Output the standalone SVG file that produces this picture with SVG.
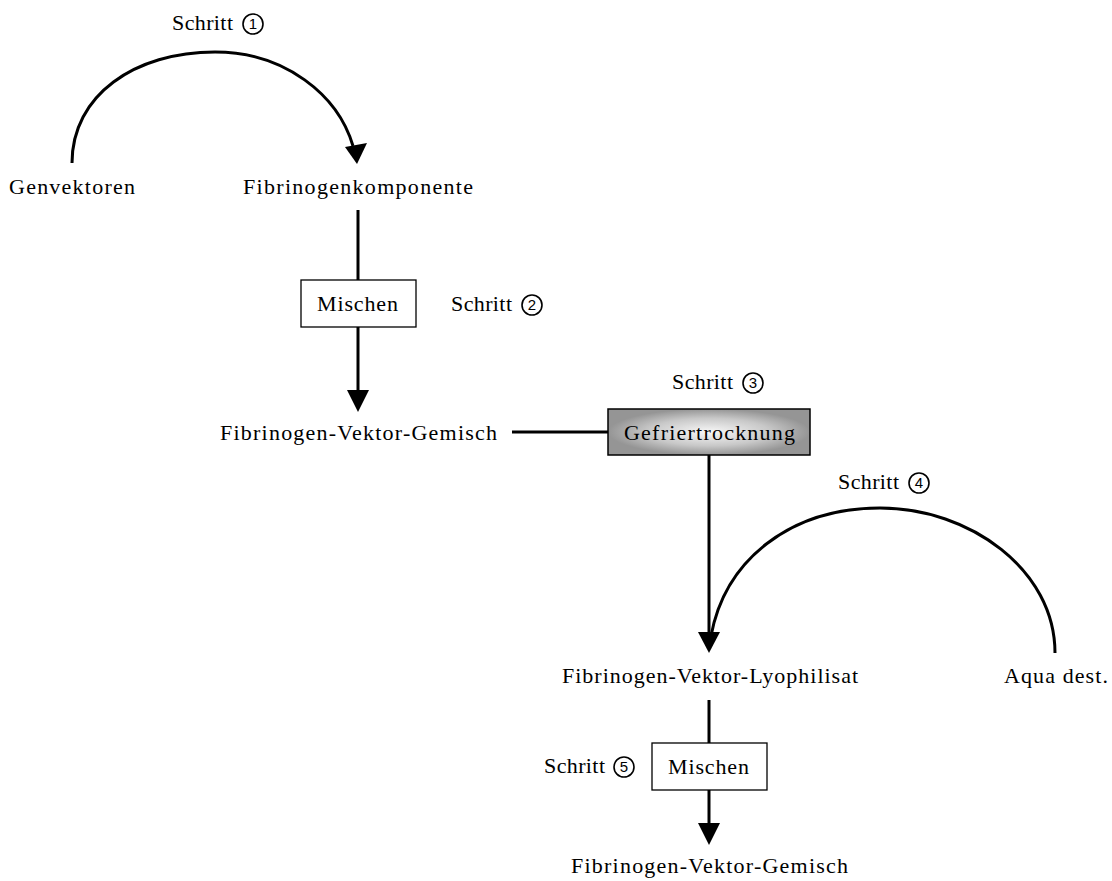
<svg xmlns="http://www.w3.org/2000/svg" width="1112" height="881" viewBox="0 0 1112 881">
  <defs>
    <style>
      .t { font-family: "Liberation Serif", "Times New Roman", serif; font-size: 22px; fill: #000; }
      .num { font-family: "Liberation Sans", Arial, sans-serif; font-size: 15px; fill: #000; text-anchor: middle; }
      .ring { fill: none; stroke: #000; stroke-width: 1.6; }
      .ln { fill: none; stroke: #000; stroke-width: 3; }
      .box { fill: #fff; stroke: #000; stroke-width: 1.3; }
      .head { fill: #000; }
    </style>
    <radialGradient id="grey" cx="0.5" cy="0.5" r="0.5" gradientUnits="objectBoundingBox">
      <stop offset="0" stop-color="#f8f8f8"/>
      <stop offset="0.6" stop-color="#c8c8c8"/>
      <stop offset="1" stop-color="#959595"/>
    </radialGradient>
  </defs>
  <rect width="1112" height="881" fill="#fff"/>

  <!-- connectors -->
  <g id="connectors">
    <path class="ln" d="M72,163 C72,95 135,52 215,52 C285,52 338,95 353,146"/>
    <polygon class="head" points="345,147 367,143 357,164"/>
    <line class="ln" x1="358" y1="210" x2="358" y2="280"/>
    <line class="ln" x1="358" y1="327" x2="358" y2="392"/>
    <polygon class="head" points="347,390 369,390 358,412"/>
    <line class="ln" x1="512" y1="432" x2="608" y2="432"/>
    <line class="ln" x1="709" y1="455" x2="709" y2="634"/>
    <polygon class="head" points="698,632 720,632 709,653"/>
    <path class="ln" d="M1055,653 C1055,570 970,508 880,508 C790,508 725,560 711,636"/>
    <line class="ln" x1="709" y1="700" x2="709" y2="743"/>
    <line class="ln" x1="709" y1="790" x2="709" y2="825"/>
    <polygon class="head" points="698,823 720,823 709,845"/>
  </g>

  <g id="genvektoren"><text class="t" x="9" y="194" textLength="126">Genvektoren</text></g>
  <g id="fibrinogenkomponente"><text class="t" x="243" y="194" textLength="230">Fibrinogenkomponente</text></g>

  <g id="step1">
    <text class="t" x="172" y="30" textLength="61">Schritt</text>
    <circle class="ring" cx="253" cy="24" r="10"/>
    <text class="num" x="253" y="29">1</text>
  </g>

  <g id="mischen1">
    <rect class="box" x="301" y="280" width="115" height="47"/>
    <text class="t" x="317" y="311" textLength="81">Mischen</text>
  </g>

  <g id="step2">
    <text class="t" x="451" y="311" textLength="61">Schritt</text>
    <circle class="ring" cx="532" cy="305" r="10"/>
    <text class="num" x="532" y="310">2</text>
  </g>

  <g id="gemisch1"><text class="t" x="220" y="440" textLength="277">Fibrinogen-Vektor-Gemisch</text></g>

  <g id="step3">
    <text class="t" x="672" y="389" textLength="61">Schritt</text>
    <circle class="ring" cx="753" cy="383" r="10"/>
    <text class="num" x="753" y="388">3</text>
  </g>

  <g id="gefriertrocknung">
    <rect x="608" y="409" width="202" height="46" fill="url(#grey)" stroke="#000" stroke-width="1.5"/>
    <text class="t" x="624" y="440" textLength="171" fill="#222">Gefriertrocknung</text>
  </g>

  <g id="step4">
    <text class="t" x="838" y="489" textLength="61">Schritt</text>
    <circle class="ring" cx="919" cy="483" r="10"/>
    <text class="num" x="919" y="488">4</text>
  </g>

  <g id="lyophilisat"><text class="t" x="562" y="683" textLength="296">Fibrinogen-Vektor-Lyophilisat</text></g>
  <g id="aqua"><text class="t" x="1004" y="683" textLength="104">Aqua dest.</text></g>

  <g id="mischen2">
    <rect class="box" x="652" y="743" width="115" height="47"/>
    <text class="t" x="668" y="774" textLength="81">Mischen</text>
  </g>

  <g id="step5">
    <text class="t" x="544" y="773" textLength="61">Schritt</text>
    <circle class="ring" cx="624" cy="767" r="10"/>
    <text class="num" x="624" y="772">5</text>
  </g>

  <g id="gemisch2"><text class="t" x="571" y="873" textLength="277">Fibrinogen-Vektor-Gemisch</text></g>
</svg>
